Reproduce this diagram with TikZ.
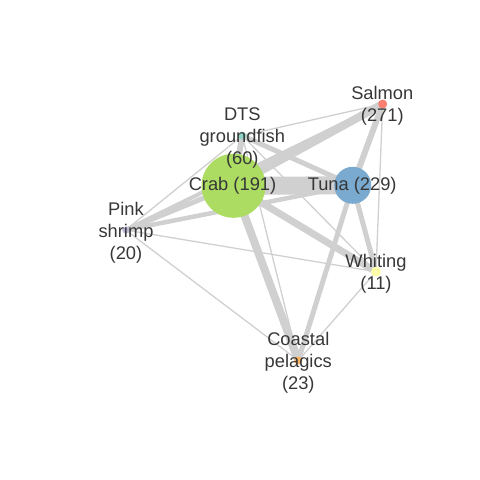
\documentclass[tikz,border=0pt]{standalone}
\usepackage{fontspec}
\setmainfont{Liberation Sans}
\pgfdeclarelayer{background}
\pgfsetlayers{background,main}
\definecolor{edgegray}{RGB}{208,208,208}
\definecolor{txt}{RGB}{55,55,55}
\definecolor{csalmon}{RGB}{251,128,114}
\definecolor{cdts}{RGB}{141,211,199}
\definecolor{ccrab}{RGB}{172,220,98}
\definecolor{ctuna}{RGB}{122,170,207}
\definecolor{cpink}{RGB}{190,186,218}
\definecolor{cwhiting}{RGB}{255,255,170}
\definecolor{ccoastal}{RGB}{253,180,98}
\tikzset{
  edge/.style={draw=edgegray, line cap=butt},
  fish/.style={circle, inner sep=0pt, draw=none},
  lbl/.style={text=txt, font=\fontsize{18.3}{22}\selectfont, align=center, inner sep=0pt}
}
\begin{document}
\begin{tikzpicture}[x=1pt,y=-1pt]
\useasboundingbox (0,0) rectangle (480,480);
% nodes
\node[fish, fill=ccrab, minimum size=64pt] (crab) at (233.5,185.8) {};
\node[fish, fill=ctuna, minimum size=37pt] (tuna) at (352.7,185.3) {};
\node[fish, fill=csalmon, minimum size=9pt] (salmon) at (382.7,104) {};
\node[fish, fill=cdts, minimum size=8pt] (dts) at (242.3,135.7) {};
\node[fish, fill=cpink, minimum size=7pt] (pink) at (125.7,230) {};
\node[fish, fill=cwhiting, minimum size=10pt] (whiting) at (376,271.7) {};
\node[fish, fill=ccoastal, minimum size=8pt] (coastal) at (298.3,360.5) {};
% edges
\begin{pgfonlayer}{background}
\draw[edge, line width=18pt] (crab.center) -- (tuna.center);
\draw[edge, line width=8pt] (crab.center) -- (salmon.center);
\draw[edge, line width=7pt] (crab.center) -- (whiting.center);
\draw[edge, line width=8pt] (crab.center) -- (coastal.center);
\draw[edge, line width=5pt] (crab.center) -- (pink.center);
\draw[edge, line width=6pt] (crab.center) -- (dts.center);
\draw[edge, line width=6pt] (tuna.center) -- (salmon.center);
\draw[edge, line width=5pt] (tuna.center) -- (whiting.center);
\draw[edge, line width=5pt] (tuna.center) -- (coastal.center);
\draw[edge, line width=4.5pt] (tuna.center) -- (pink.center);
\draw[edge, line width=5pt] (tuna.center) -- (dts.center);
\draw[edge, line width=4pt] (salmon.center) -- (pink.center);
\draw[edge, line width=1.3pt] (salmon.center) -- (dts.center);
\draw[edge, line width=1.3pt] (salmon.center) -- (whiting.center);
\draw[edge, line width=1.3pt] (dts.center) -- (whiting.center);
\draw[edge, line width=1.3pt] (dts.center) -- (coastal.center);
\draw[edge, line width=1.3pt] (dts.center) -- (pink.center);
\draw[edge, line width=1.3pt] (pink.center) -- (whiting.center);
\draw[edge, line width=1.3pt] (pink.center) -- (coastal.center);
\draw[edge, line width=1.3pt] (whiting.center) -- (coastal.center);
\end{pgfonlayer}
% labels
\node[lbl] (crabL) at (232.5,185.5) {Crab (191)};
\node[lbl] (tunaL) at (352.2,185.5) {Tuna (229)};
\node[lbl] (salmonL) at (382.3,105.5) {Salmon\\(271)};
\node[lbl] (dtsL) at (242.3,138.5) {DTS\\groundfish\\(60)};
\node[lbl] (pinkL) at (126,232.5) {Pink\\shrimp\\(20)};
\node[lbl] (whitingL) at (376,273.5) {Whiting\\(11)};
\node[lbl] (coastalL) at (298.3,362.5) {Coastal\\pelagics\\(23)};
\end{tikzpicture}
\end{document}
